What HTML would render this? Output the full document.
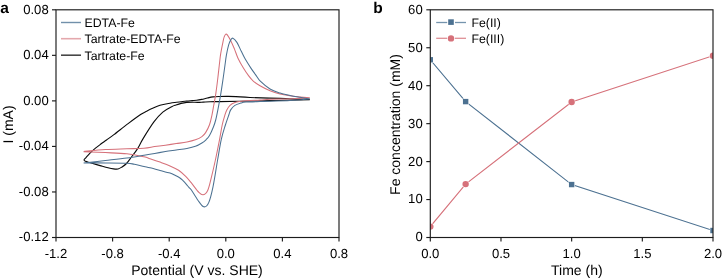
<!DOCTYPE html>
<html><head><meta charset="utf-8"><style>
html,body{margin:0;padding:0;background:#fff;}
body{width:722px;height:280px;overflow:hidden;}
svg{display:block;will-change:transform;font-family:"Liberation Sans",sans-serif;text-rendering:geometricPrecision;}
.ax line,.ax rect{stroke:#1c1c1c;stroke-width:1.15px;}
</style></head><body>
<svg width="722" height="280" viewBox="0 0 722 280">
<rect width="722" height="280" fill="#fff"/>
<text x="0.2" y="13.2" font-size="15.5" font-weight="bold">a</text>
<text x="373.2" y="13.1" font-size="15.5" font-weight="bold">b</text>
<defs>
<clipPath id="ca"><rect x="56.0" y="9.8" width="283.0" height="227.7"/></clipPath>
<clipPath id="cb"><rect x="430.3" y="9.8" width="282.7" height="227.7"/></clipPath>
</defs>
<!-- panel a curves -->
<g clip-path="url(#ca)" fill="none" stroke-width="1.05" stroke-linejoin="round">
<path d="M309.80,99.30 C304.83,99.15 289.97,98.70 280.00,98.40 C270.03,98.10 257.33,97.80 250.00,97.50 C242.67,97.20 239.67,96.78 236.00,96.60 C232.33,96.42 230.83,96.42 228.00,96.40 C225.17,96.38 221.50,96.42 219.00,96.50 C216.50,96.58 214.93,96.65 213.00,96.90 C211.07,97.15 209.28,97.58 207.40,98.00 C205.52,98.42 203.50,99.02 201.70,99.40 C199.90,99.78 198.18,100.10 196.60,100.30 C195.02,100.50 193.87,100.48 192.20,100.60 C190.53,100.72 188.45,100.82 186.60,101.00 C184.75,101.18 182.77,101.48 181.10,101.70 C179.43,101.92 178.45,102.05 176.60,102.30 C174.75,102.55 172.77,102.72 170.00,103.20 C167.23,103.68 163.00,104.30 160.00,105.20 C157.00,106.10 154.22,107.60 152.00,108.60 C149.78,109.60 148.60,110.22 146.70,111.20 C144.80,112.18 143.70,112.43 140.60,114.50 C137.50,116.57 132.55,120.25 128.10,123.60 C123.65,126.95 117.50,131.87 113.90,134.60 C110.30,137.33 108.73,138.38 106.50,140.00 C104.27,141.62 102.33,142.93 100.50,144.30 C98.67,145.67 97.25,146.72 95.50,148.20 C93.75,149.68 91.55,151.67 90.00,153.20 C88.45,154.73 87.20,156.27 86.20,157.40 C85.20,158.53 84.12,159.35 84.00,160.00 C83.88,160.65 84.43,160.83 85.50,161.30 C86.57,161.77 87.97,162.08 90.40,162.80 C92.83,163.52 97.17,164.77 100.10,165.60 C103.03,166.43 105.77,167.25 108.00,167.80 C110.23,168.35 111.83,168.70 113.50,168.90 C115.17,169.10 116.67,169.27 118.00,169.00 C119.33,168.73 120.08,168.22 121.50,167.30 C122.92,166.38 124.78,165.30 126.50,163.50 C128.22,161.70 129.95,158.98 131.80,156.50 C133.65,154.02 135.72,151.58 137.60,148.60 C139.48,145.62 140.38,143.05 143.10,138.60 C145.82,134.15 150.62,126.32 153.90,121.90 C157.18,117.48 159.83,114.62 162.80,112.10 C165.77,109.57 169.50,107.93 171.70,106.75 C173.90,105.57 174.43,105.56 176.00,105.00 C177.57,104.44 179.33,103.83 181.10,103.40 C182.87,102.97 184.75,102.60 186.60,102.40 C188.45,102.20 190.35,102.20 192.20,102.20 C194.05,102.20 195.85,102.42 197.70,102.40 C199.55,102.38 201.25,102.22 203.30,102.10 C205.35,101.98 207.22,101.78 210.00,101.70 C212.78,101.62 215.00,101.67 220.00,101.60 C225.00,101.53 231.67,101.47 240.00,101.30 C248.33,101.13 258.37,100.85 270.00,100.60 C281.63,100.35 303.17,99.93 309.80,99.80" stroke="#0a0a0a" stroke-width="1.1"/>
<path d="M83.60,151.50 C87.23,151.18 98.18,150.05 105.40,149.60 C112.62,149.15 120.47,149.03 126.90,148.80 C133.33,148.57 139.37,148.57 144.00,148.20 C148.63,147.83 151.13,147.10 154.70,146.60 C158.27,146.10 161.82,145.70 165.40,145.20 C168.98,144.70 172.62,144.13 176.20,143.60 C179.78,143.07 183.70,142.63 186.90,142.00 C190.10,141.37 192.90,140.70 195.40,139.80 C197.90,138.90 200.20,137.80 201.90,136.60 C203.60,135.40 204.33,134.58 205.60,132.60 C206.87,130.62 208.43,127.67 209.50,124.70 C210.57,121.73 211.28,118.08 212.00,114.80 C212.72,111.52 213.18,108.42 213.80,105.00 C214.42,101.58 215.07,98.47 215.70,94.30 C216.33,90.13 217.00,84.88 217.60,80.00 C218.20,75.12 218.78,69.38 219.30,65.00 C219.82,60.62 220.10,57.48 220.70,53.70 C221.30,49.92 222.30,45.15 222.90,42.30 C223.50,39.45 223.67,37.93 224.30,36.60 C224.93,35.27 225.57,33.50 226.70,34.30 C227.83,35.10 229.78,38.88 231.10,41.40 C232.42,43.92 233.45,46.60 234.60,49.40 C235.75,52.20 236.53,55.08 238.00,58.20 C239.47,61.32 241.62,65.15 243.40,68.10 C245.18,71.05 247.02,73.70 248.70,75.90 C250.38,78.10 251.62,79.67 253.50,81.30 C255.38,82.93 257.25,84.13 260.00,85.70 C262.75,87.27 266.67,89.32 270.00,90.70 C273.33,92.08 276.67,93.15 280.00,94.00 C283.33,94.85 286.67,95.32 290.00,95.80 C293.33,96.28 296.70,96.57 300.00,96.90 C303.30,97.23 308.17,97.65 309.80,97.80 M309.80,97.80 C306.50,97.97 296.63,98.55 290.00,98.80 C283.37,99.05 275.00,99.10 270.00,99.30 C265.00,99.50 264.83,99.67 260.00,100.00 C255.17,100.33 245.18,100.87 241.00,101.30 C236.82,101.73 236.73,101.92 234.90,102.60 C233.07,103.28 231.35,104.18 230.00,105.40 C228.65,106.62 227.65,108.30 226.80,109.90 C225.95,111.50 225.67,112.48 224.90,115.00 C224.13,117.52 223.12,120.77 222.20,125.00 C221.28,129.23 220.53,134.57 219.40,140.40 C218.27,146.23 216.76,153.75 215.40,160.00 C214.04,166.25 212.53,172.83 211.25,177.90 C209.97,182.97 209.09,187.58 207.70,190.40 C206.31,193.22 204.52,194.62 202.90,194.80 C201.28,194.98 199.20,192.53 198.00,191.50 C196.80,190.47 196.80,190.03 195.70,188.60 C194.60,187.17 193.07,184.93 191.40,182.90 C189.73,180.87 187.83,178.50 185.70,176.40 C183.57,174.30 181.22,172.05 178.60,170.30 C175.98,168.55 173.10,167.27 170.00,165.90 C166.90,164.53 163.33,163.30 160.00,162.10 C156.67,160.90 152.67,159.58 150.00,158.70 C147.33,157.82 147.85,157.62 144.00,156.80 C140.15,155.98 133.33,154.50 126.90,153.80 C120.47,153.10 112.62,152.95 105.40,152.60 C98.18,152.25 87.23,151.85 83.60,151.70" stroke="#d6717a"/>
<path d="M83.60,162.90 C87.23,162.50 98.18,161.32 105.40,160.50 C112.62,159.68 120.47,158.88 126.90,158.00 C133.33,157.12 139.37,155.97 144.00,155.20 C148.63,154.43 151.13,154.00 154.70,153.40 C158.27,152.80 161.82,152.17 165.40,151.60 C168.98,151.03 172.62,150.53 176.20,150.00 C179.78,149.47 183.70,149.02 186.90,148.40 C190.10,147.78 192.90,147.20 195.40,146.30 C197.90,145.40 200.13,144.08 201.90,143.00 C203.67,141.92 204.73,141.05 206.00,139.80 C207.27,138.55 208.25,137.68 209.50,135.50 C210.75,133.32 212.47,129.28 213.50,126.70 C214.53,124.12 214.93,123.02 215.70,120.00 C216.47,116.98 217.27,112.88 218.10,108.60 C218.93,104.32 219.90,99.07 220.70,94.30 C221.50,89.53 222.18,84.88 222.90,80.00 C223.62,75.12 224.42,69.15 225.00,65.00 C225.58,60.85 225.80,58.42 226.40,55.10 C227.00,51.78 227.88,47.60 228.60,45.10 C229.32,42.60 229.98,41.25 230.70,40.10 C231.42,38.95 231.87,37.82 232.90,38.20 C233.93,38.58 235.50,40.22 236.90,42.40 C238.30,44.58 239.87,48.43 241.30,51.30 C242.73,54.17 243.90,56.80 245.50,59.60 C247.10,62.40 249.12,65.43 250.90,68.10 C252.68,70.77 254.63,73.42 256.20,75.60 C257.77,77.78 258.00,78.97 260.30,81.20 C262.60,83.43 266.72,87.03 270.00,89.00 C273.28,90.97 276.67,91.93 280.00,93.00 C283.33,94.07 286.67,94.68 290.00,95.40 C293.33,96.12 296.70,96.70 300.00,97.30 C303.30,97.90 308.17,98.72 309.80,99.00 M309.80,99.00 C306.50,99.27 296.63,100.23 290.00,100.60 C283.37,100.97 275.00,101.05 270.00,101.20 C265.00,101.35 264.00,101.35 260.00,101.50 C256.00,101.65 249.22,101.83 246.00,102.10 C242.78,102.37 242.55,102.55 240.70,103.10 C238.85,103.65 236.57,104.27 234.90,105.40 C233.23,106.53 231.72,108.30 230.70,109.90 C229.68,111.50 229.68,112.48 228.80,115.00 C227.92,117.52 226.65,120.93 225.40,125.00 C224.15,129.07 222.60,133.57 221.30,139.40 C220.00,145.23 218.98,152.10 217.60,160.00 C216.22,167.90 214.50,179.65 213.00,186.80 C211.50,193.95 210.14,199.57 208.60,202.90 C207.06,206.23 205.53,207.25 203.75,206.80 C201.97,206.35 199.96,203.00 197.90,200.20 C195.84,197.40 192.90,192.13 191.40,190.00 C189.90,187.87 189.73,188.35 188.90,187.40 C188.07,186.45 187.38,185.43 186.40,184.30 C185.42,183.17 184.07,181.65 183.00,180.60 C181.93,179.55 181.33,178.88 180.00,178.00 C178.67,177.12 176.67,176.12 175.00,175.30 C173.33,174.48 172.50,173.92 170.00,173.10 C167.50,172.28 163.33,171.28 160.00,170.40 C156.67,169.52 152.67,168.45 150.00,167.80 C147.33,167.15 146.62,167.08 144.00,166.50 C141.38,165.92 137.15,164.85 134.30,164.30 C131.45,163.75 131.72,163.43 126.90,163.20 C122.08,162.97 112.62,162.95 105.40,162.90 C98.18,162.85 87.23,162.90 83.60,162.90" stroke="#4c7191"/>
</g>
<!-- panel a legend -->
<g>
<line x1="61" y1="22.5" x2="81" y2="22.5" stroke="#7190aa" stroke-width="1.4"/>
<line x1="61" y1="38.7" x2="81" y2="38.7" stroke="#e4a8ad" stroke-width="1.6"/>
<line x1="61" y1="55.2" x2="81" y2="55.2" stroke="#474747" stroke-width="1.6"/>
</g>
<g font-size="12.3" fill="#000">
<text x="84.5" y="27.2">EDTA-Fe</text>
<text x="84.5" y="43.3">Tartrate-EDTA-Fe</text>
<text x="84.5" y="59.5">Tartrate-Fe</text>
</g>
<!-- panel a axes -->
<g class="ax" font-size="13.1" fill="#000">
<rect x="56.0" y="9.8" width="283.0" height="227.7" fill="none"/>
<line x1="52.00" y1="9.80" x2="56.00" y2="9.80" />
<text x="48.7" y="13.70" text-anchor="end">0.08</text>
<line x1="52.00" y1="55.34" x2="56.00" y2="55.34" />
<text x="48.7" y="59.24" text-anchor="end">0.04</text>
<line x1="52.00" y1="100.88" x2="56.00" y2="100.88" />
<text x="48.7" y="104.78" text-anchor="end">0.00</text>
<line x1="52.00" y1="146.42" x2="56.00" y2="146.42" />
<text x="48.7" y="150.32" text-anchor="end">-0.04</text>
<line x1="52.00" y1="191.96" x2="56.00" y2="191.96" />
<text x="48.7" y="195.86" text-anchor="end">-0.08</text>
<line x1="52.00" y1="237.50" x2="56.00" y2="237.50" />
<text x="48.7" y="241.40" text-anchor="end">-0.12</text>
<line x1="56.00" y1="237.50" x2="56.00" y2="241.50" />
<text x="56.00" y="257.5" text-anchor="middle">-1.2</text>
<line x1="112.60" y1="237.50" x2="112.60" y2="241.50" />
<text x="112.60" y="257.5" text-anchor="middle">-0.8</text>
<line x1="169.20" y1="237.50" x2="169.20" y2="241.50" />
<text x="169.20" y="257.5" text-anchor="middle">-0.4</text>
<line x1="225.80" y1="237.50" x2="225.80" y2="241.50" />
<text x="225.80" y="257.5" text-anchor="middle">0.0</text>
<line x1="282.40" y1="237.50" x2="282.40" y2="241.50" />
<text x="282.40" y="257.5" text-anchor="middle">0.4</text>
<line x1="339.00" y1="237.50" x2="339.00" y2="241.50" />
<text x="339.00" y="257.5" text-anchor="middle">0.8</text>
</g>
<text x="197" y="275.2" font-size="14" text-anchor="middle" fill="#000">Potential (V vs. SHE)</text>
<text transform="translate(13.2,124.5) rotate(-90)" font-size="14" text-anchor="middle" fill="#000">I (mA)</text>

<!-- panel b -->
<g clip-path="url(#cb)">
<polyline points="430.30,59.78 465.64,101.60 571.65,184.56 713.00,230.52" fill="none" stroke="#4c7191" stroke-width="1.1"/>
<polyline points="430.30,226.61 465.64,184.10 571.65,102.02 713.00,55.72" fill="none" stroke="#d6717a" stroke-width="1.1"/>
<rect x="427.10" y="56.58" width="6.4" height="6.4" fill="#fff"/>
<rect x="427.60" y="57.08" width="5.4" height="5.4" fill="#4c7191"/>
<rect x="462.44" y="98.40" width="6.4" height="6.4" fill="#fff"/>
<rect x="462.94" y="98.90" width="5.4" height="5.4" fill="#4c7191"/>
<rect x="568.45" y="181.36" width="6.4" height="6.4" fill="#fff"/>
<rect x="568.95" y="181.86" width="5.4" height="5.4" fill="#4c7191"/>
<rect x="709.80" y="227.32" width="6.4" height="6.4" fill="#fff"/>
<rect x="710.30" y="227.82" width="5.4" height="5.4" fill="#4c7191"/>
<circle cx="430.30" cy="226.61" r="3.7" fill="#fff"/>
<circle cx="430.30" cy="226.61" r="3.2" fill="#d6717a"/>
<circle cx="465.64" cy="184.10" r="3.7" fill="#fff"/>
<circle cx="465.64" cy="184.10" r="3.2" fill="#d6717a"/>
<circle cx="571.65" cy="102.02" r="3.7" fill="#fff"/>
<circle cx="571.65" cy="102.02" r="3.2" fill="#d6717a"/>
<circle cx="713.00" cy="55.72" r="3.7" fill="#fff"/>
<circle cx="713.00" cy="55.72" r="3.2" fill="#d6717a"/>
</g>
<g>
<line x1="436.2" y1="22.5" x2="447.2" y2="22.5" stroke="#7594ad" stroke-width="1.3"/>
<line x1="455" y1="22.5" x2="466" y2="22.5" stroke="#7594ad" stroke-width="1.3"/>
<rect x="448.2" y="19.3" width="5.6" height="5.6" fill="#4c7191"/>
<line x1="436.2" y1="38.3" x2="447.1" y2="38.3" stroke="#df8f95" stroke-width="1.3"/>
<line x1="454.9" y1="38.3" x2="466" y2="38.3" stroke="#df8f95" stroke-width="1.3"/>
<circle cx="451" cy="38.4" r="3.2" fill="#d6717a"/>
</g>
<g font-size="12.3" fill="#000">
<text x="471.5" y="26.8">Fe(II)</text>
<text x="471.5" y="42.7">Fe(III)</text>
</g>
<g class="ax" font-size="13.1" fill="#000">
<rect x="430.3" y="9.8" width="282.7" height="227.7" fill="none"/>
<line x1="426.30" y1="9.80" x2="430.30" y2="9.80" />
<text x="422.7" y="13.70" text-anchor="end">60</text>
<line x1="426.30" y1="47.75" x2="430.30" y2="47.75" />
<text x="422.7" y="51.65" text-anchor="end">50</text>
<line x1="426.30" y1="85.70" x2="430.30" y2="85.70" />
<text x="422.7" y="89.60" text-anchor="end">40</text>
<line x1="426.30" y1="123.65" x2="430.30" y2="123.65" />
<text x="422.7" y="127.55" text-anchor="end">30</text>
<line x1="426.30" y1="161.60" x2="430.30" y2="161.60" />
<text x="422.7" y="165.50" text-anchor="end">20</text>
<line x1="426.30" y1="199.55" x2="430.30" y2="199.55" />
<text x="422.7" y="203.45" text-anchor="end">10</text>
<line x1="426.30" y1="237.50" x2="430.30" y2="237.50" />
<text x="422.7" y="241.40" text-anchor="end">0</text>
<line x1="430.30" y1="237.50" x2="430.30" y2="241.50" />
<text x="430.30" y="257.5" text-anchor="middle">0.0</text>
<line x1="500.98" y1="237.50" x2="500.98" y2="241.50" />
<text x="500.98" y="257.5" text-anchor="middle">0.5</text>
<line x1="571.65" y1="237.50" x2="571.65" y2="241.50" />
<text x="571.65" y="257.5" text-anchor="middle">1.0</text>
<line x1="642.33" y1="237.50" x2="642.33" y2="241.50" />
<text x="642.33" y="257.5" text-anchor="middle">1.5</text>
<line x1="713.00" y1="237.50" x2="713.00" y2="241.50" />
<text x="713.00" y="257.5" text-anchor="middle">2.0</text>
</g>
<text x="576.8" y="275.2" font-size="14" text-anchor="middle" fill="#000">Time (h)</text>
<text transform="translate(400.4,124.5) rotate(-90)" font-size="14" text-anchor="middle" fill="#000">Fe concentration (mM)</text>
</svg>
</body></html>
